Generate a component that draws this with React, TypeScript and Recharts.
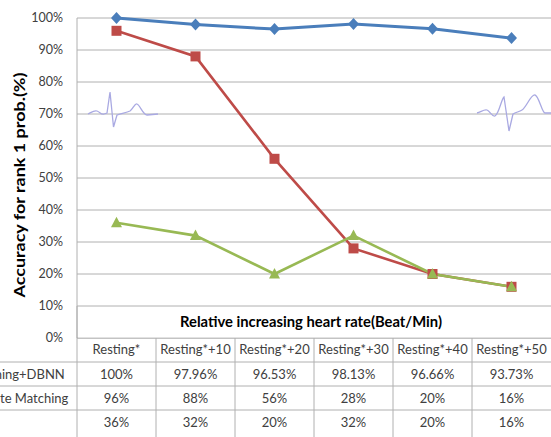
import { LineChart, Line, XAxis, YAxis, CartesianGrid } from "recharts";

const categories = [
  "Resting*",
  "Resting*+10",
  "Resting*+20",
  "Resting*+30",
  "Resting*+40",
  "Resting*+50",
];
const screeningDbnn = [100, 97.96, 96.53, 98.13, 96.66, 93.73];
const templateMatching = [96, 88, 56, 28, 20, 16];
const thirdMethod = [36, 32, 20, 32, 20, 16];
const seriesNames = ["Screening+DBNN", "Template Matching", ""];
const yTicks = [0, 10, 20, 30, 40, 50, 60, 70, 80, 90, 100];

const W = 551;
const H = 437;
const PLOT_LEFT = 77;
const PLOT_TOP = 18;
const PLOT_BOTTOM = 338;
const BAND = (W - PLOT_LEFT) / categories.length;
const ROW_H = 24;
const FONT = "Lato, 'Open Sans', sans-serif";
const GRID = "#b0b0b0";
const TEXT = "#404040";

const BLUE = "#4a7ebb";
const RED = "#be4b48";
const GREEN = "#98b954";

const data = categories.map((name, i) => ({
  name,
  dbnn: screeningDbnn[i],
  tm: templateMatching[i],
  third: thirdMethod[i],
}));

const tableRows = [screeningDbnn, templateMatching, thirdMethod];

const diamond = (p: any) => (
  <path
    key={`d-${p.index}`}
    d={`M${p.cx},${p.cy - 6}L${p.cx + 5.5},${p.cy}L${p.cx},${p.cy + 6}L${p.cx - 5.5},${p.cy}Z`}
    fill={BLUE}
  />
);
const square = (p: any) => (
  <rect key={`s-${p.index}`} x={p.cx - 5} y={p.cy - 5} width={10} height={10} fill={RED} />
);
const triangle = (p: any) => (
  <path
    key={`t-${p.index}`}
    d={`M${p.cx},${p.cy - 6}L${p.cx + 5.5},${p.cy + 4.5}L${p.cx - 5.5},${p.cy + 4.5}Z`}
    fill={GREEN}
  />
);

// decorative heartbeat traces from the original figure
const ecgLeft =
  "M88,114 C92,112 94,110 97,111 C100,112 101,115 104,114 L107,113 L110,92 L113.5,127 L117,115 C122,113 126,113 130,111 C133,109 135,103 137,104 C140,105 143,115 147,115 L158,114";
const ecgRight =
  "M477,113 C481,112 484,109 487,110 C490,111 492,117 495,116 C499,114 501,100 504,97 L509,131 L513,114 C516,112 519,112 522,110 C526,108 531,94 535,95 C539,96 542,113 545,113 L551,113";

const App = () => {
  const tenPct = PLOT_BOTTOM - (PLOT_BOTTOM - PLOT_TOP) * 0.1;
  return (
    <div
      style={{ position: "absolute", left: 0, top: 0, width: W, height: H, background: "#fff" }}
    >
      <LineChart
        width={W}
        height={H}
        data={data}
        margin={{ top: PLOT_TOP, right: 0, bottom: H - PLOT_BOTTOM - ROW_H, left: 0 }}
      >
        <CartesianGrid vertical={false} stroke={GRID} />
        <XAxis
          dataKey="name"
          height={ROW_H}
          padding={{ left: BAND / 2, right: BAND / 2 }}
          tickLine={false}
          tickSize={0}
          tickMargin={7}
          axisLine={{ stroke: GRID }}
          tick={{ fill: TEXT, fontSize: 13, fontFamily: FONT }}
          interval={0}
        />
        <YAxis
          domain={[0, 100]}
          ticks={yTicks}
          width={PLOT_LEFT}
          tickFormatter={(v) => `${v}%`}
          tickLine={false}
          tickMargin={8}
          axisLine={{ stroke: GRID }}
          tick={{ fill: TEXT, fontSize: 12.5, fontFamily: FONT }}
        />
        <Line
          dataKey="dbnn"
          stroke={BLUE}
          strokeWidth={3}
          dot={diamond}
          activeDot={false}
          isAnimationActive={false}
        />
        <Line
          dataKey="tm"
          stroke={RED}
          strokeWidth={2.6}
          dot={square}
          activeDot={false}
          isAnimationActive={false}
        />
        <Line
          dataKey="third"
          stroke={GREEN}
          strokeWidth={2.6}
          dot={triangle}
          activeDot={false}
          isAnimationActive={false}
        />
      </LineChart>
      <svg
        width={W}
        height={H}
        style={{ position: "absolute", left: 0, top: 0, pointerEvents: "none" }}
      >
        <path d={ecgLeft} fill="none" stroke="#a9a9e2" strokeWidth={1.3} />
        <path d={ecgRight} fill="none" stroke="#a9a9e2" strokeWidth={1.3} />
        <rect
          x={PLOT_LEFT + 1}
          y={tenPct + 1}
          width={W - PLOT_LEFT}
          height={PLOT_BOTTOM - tenPct - 1.5}
          fill="#fff"
        />
        <text
          x={PLOT_LEFT + (W - PLOT_LEFT) / 2 - 3}
          y={(tenPct + PLOT_BOTTOM) / 2 + 5}
          textAnchor="middle"
          fontFamily={FONT}
          fontWeight="bold"
          fontSize={15}
          textLength={262}
          lengthAdjust="spacingAndGlyphs"
          fill="#000"
        >
          Relative increasing heart rate(Beat/Min)
        </text>
        <text
          transform="translate(25,185) rotate(-90)"
          textAnchor="middle"
          fontFamily={FONT}
          fontWeight="bold"
          fontSize={15}
          textLength={225}
          lengthAdjust="spacingAndGlyphs"
          fill="#000"
        >
          Accuracy for rank 1 prob.(%)
        </text>
        {categories.map((_, i) => (
          <line
            key={`v-${i}`}
            x1={PLOT_LEFT + BAND * i}
            x2={PLOT_LEFT + BAND * i}
            y1={i === 0 ? tenPct : PLOT_BOTTOM}
            y2={H}
            stroke={GRID}
          />
        ))}
        {tableRows.map((row, r) => {
          const top = PLOT_BOTTOM + ROW_H * (r + 1);
          return (
            <g key={`row-${r}`}>
              <line x1={0} x2={W} y1={top} y2={top} stroke={GRID} />
              <text
                x={14}
                y={top + ROW_H / 2 + 4.5}
                textAnchor="middle"
                fontFamily={FONT}
                fontSize={13}
                fill={TEXT}
              >
                {seriesNames[r]}
              </text>
              {row.map((v, i) => (
                <text
                  key={`c-${r}-${i}`}
                  x={PLOT_LEFT + BAND * i + BAND / 2}
                  y={top + ROW_H / 2 + 4.5}
                  textAnchor="middle"
                  fontFamily={FONT}
                  fontSize={13}
                  fill={TEXT}
                >
                  {`${v}%`}
                </text>
              ))}
            </g>
          );
        })}
      </svg>
    </div>
  );
};

export default App;
